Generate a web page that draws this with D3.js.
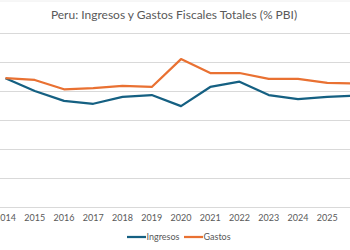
<!DOCTYPE html>
<html>
<head>
<meta charset="utf-8">
<script src="https://cdn.jsdelivr.net/npm/d3@7"></script>
<style>
  body { margin: 0; background: #fff; }
  text { font-family: Lato, "Open Sans", sans-serif; fill: #595959; }
</style>
</head>
<body>
<div id="chart"></div>
<script>
const years = [2014, 2015, 2016, 2017, 2018, 2019, 2020, 2021, 2022, 2023, 2024, 2025, 2026];
const yearLabels = [2014, 2015, 2016, 2017, 2018, 2019, 2020, 2021, 2022, 2023, 2024, 2025];
const ingresos = [22.2, 20.0, 18.3, 17.8, 19.0, 19.3, 17.4, 20.7, 21.6, 19.3, 18.6, 19.0, 19.2];
const gastos = [22.2, 21.9, 20.3, 20.5, 20.9, 20.7, 25.5, 23.1, 23.1, 22.1, 22.1, 21.4, 21.3];
const yTicks = [0, 5, 10, 15, 20, 25, 30];
const seriesNames = ['Ingresos', 'Gastos'];
const colors = ['#156082', '#E97132'];

const width = 350, height = 250;
const svg = d3.select('#chart').append('svg')
  .attr('width', width)
  .attr('height', height);

// top border of chart area
svg.append('line')
  .attr('x1', 0).attr('x2', width)
  .attr('y1', 1).attr('y2', 1)
  .attr('stroke', '#eeeeee');

svg.append('text')
  .attr('x', 174)
  .attr('y', 19)
  .attr('text-anchor', 'middle')
  .style('font-size', '12px')
  .text('Peru: Ingresos y Gastos Fiscales Totales (% PBI)');

const x = d3.scaleLinear().domain([2014, 2026]).range([5.5, 356.5]);
const y = d3.scaleLinear().domain([0, 30]).range([207, 33]);

// gridlines
svg.append('g')
  .selectAll('line')
  .data(yTicks)
  .join('line')
  .attr('x1', 0).attr('x2', width)
  .attr('y1', d => Math.round(y(d)) + 0.5)
  .attr('y2', d => Math.round(y(d)) + 0.5)
  .attr('stroke', '#d9d9d9')
  .attr('stroke-width', 1);

// x axis labels
svg.append('g')
  .selectAll('text')
  .data(yearLabels)
  .join('text')
  .attr('x', d => x(d))
  .attr('y', 221)
  .attr('text-anchor', 'middle')
  .style('font-size', '9px')
  .text(d => d);

const line = d3.line()
  .x((d, i) => x(years[i]))
  .y(d => y(d));

[ingresos, gastos].forEach((s, k) => {
  svg.append('path')
    .datum(s)
    .attr('d', line)
    .attr('fill', 'none')
    .attr('stroke', colors[k])
    .attr('stroke-width', 2.25)
    .attr('stroke-linejoin', 'round');
});

// legend
const legX = [127, 184];
seriesNames.forEach((n, k) => {
  const g = svg.append('g').attr('transform', `translate(${legX[k]},237)`);
  g.append('line')
    .attr('x1', 0).attr('x2', 19)
    .attr('y1', 0).attr('y2', 0)
    .attr('stroke', colors[k])
    .attr('stroke-width', 2.25);
  g.append('text')
    .attr('x', 19.5)
    .attr('y', 3)
    .style('font-size', '9px')
    .text(n);
});
</script>
</body>
</html>
